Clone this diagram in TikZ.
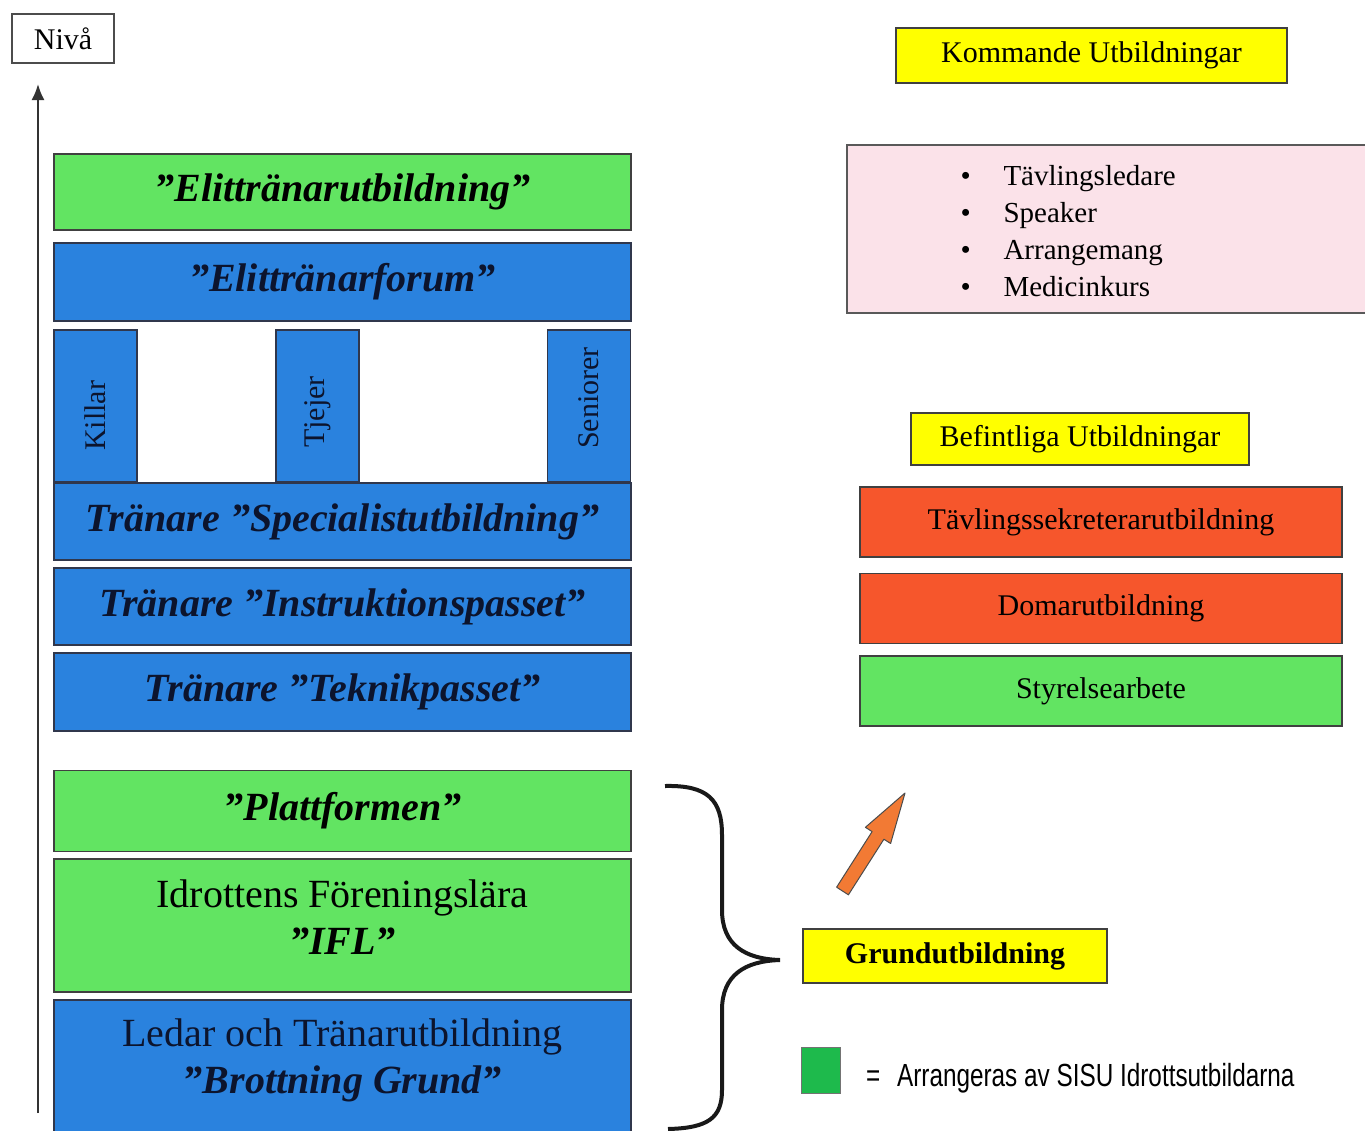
\documentclass[tikz,border=0pt]{standalone}
\usepackage{fontspec}
\usepackage{graphicx}
\setmainfont{Liberation Serif}
\newfontfamily\legendfont{Liberation Sans}
\usetikzlibrary{shapes,arrows.meta,positioning}
\definecolor{levelgreen}{RGB}{98,228,98}
\definecolor{levelblue}{RGB}{42,130,222}
\definecolor{courseorange}{RGB}{246,86,44}
\definecolor{titleyellow}{RGB}{255,255,0}
\definecolor{listpink}{RGB}{251,226,233}
\definecolor{sisugreen}{RGB}{30,186,76}
\definecolor{arroworange}{RGB}{242,122,52}
\definecolor{textnavy}{RGB}{12,20,45}

\tikzset{
  levelbox/.style={rectangle, draw=black!75, line width=1.5pt, inner sep=0pt, minimum width=577pt, align=center,
    font=\fontsize{40}{47}\selectfont\bfseries\itshape},
  plainlevel/.style={font=\fontsize{40}{47}\selectfont},
  greenlevel/.style={levelbox, fill=levelgreen},
  bluelevel/.style={levelbox, fill=levelblue, draw=textnavy!85, text=textnavy},
  groupbox/.style={rectangle, draw=textnavy!85, line width=1.5pt, fill=levelblue, inner sep=0pt, rotate=90,
    minimum width=152pt, minimum height=83pt, text=textnavy, font=\fontsize{30}{36}\selectfont},
  titlebox/.style={rectangle, draw=black!75, line width=1.5pt, fill=titleyellow, inner sep=0pt,
    font=\fontsize{30}{36}\selectfont},
  coursebox/.style={rectangle, draw=black!75, line width=1.5pt, inner sep=0pt, minimum width=482pt,
    minimum height=70pt, font=\fontsize{30}{36}\selectfont}
}

\begin{document}
\begin{tikzpicture}[x=1pt, y=-1pt]
  \fill[white] (0,0) rectangle (1365,1130);
  \useasboundingbox (0,0) rectangle (1365,1130);

  % Level axis
  \node[draw=black!70, line width=1.5pt, inner sep=0pt, minimum width=102pt, minimum height=49pt,
    font=\fontsize{30}{36}\selectfont] (niva) at (63,38.5) {Nivå};
  \coordinate (axisfoot) at (38,1113);
  \coordinate (axistop) at (38,84);
  \draw[line width=2pt, black!80, -{Latex[length=16pt,width=13pt]}] (axisfoot) -- (axistop);

  % Education levels
  \node[greenlevel, minimum height=76pt] (elite) at (342.5,192) {”Elittränarutbildning”};
  \node[bluelevel, minimum height=78pt] (forum) at (342.5,282) {”Elittränarforum”};
  \node[groupbox] (killar) at (95.5,406) {Killar\kern20pt};
  \node[groupbox] (tjejer) at (317.5,406) {Tjejer\kern12pt};
  \node[groupbox] (seniorer) at (589,406) {\kern16pt Seniorer};
  \node[bluelevel, minimum height=77pt] (special) at (342.5,521.5) {Tränare ”Specialistutbildning”};
  \node[bluelevel, minimum height=77pt] (instruktion) at (342.5,606.5) {Tränare ”Instruktionspasset”};
  \node[bluelevel, minimum height=78pt] (teknik) at (342.5,692) {Tränare ”Teknikpasset”};

  % Basic education
  \node[greenlevel, minimum height=81pt] (plattform) at (342.5,811) {”Plattformen”};
  \node[greenlevel, minimum height=133pt] (ifl) at (342.5,925.5) {};
  \node[plainlevel, align=center] (ifltext) at (342.5,917)
    {Idrottens Föreningslära\\\textbf{\textit{”IFL”}}};
  \node[bluelevel, minimum height=141pt, anchor=north] (brottning) at (342.5,999) {};
  \node[plainlevel, align=center, text=textnavy] (brottningtext) at (342.5,1060)
    {Ledar och Tränarutbildning\\\textbf{\textit{”Brottning Grund”}}};

  % Brace
  \draw[line width=4pt, black!90] (665,786) .. controls (708,785) and (722,800) .. (722,835)
    -- (722,910) .. controls (722,945) and (745,959) .. (780,960)
    .. controls (745,961) and (722,975) .. (722,1010)
    -- (722,1090) .. controls (722,1118) and (708,1128) .. (668,1129);
  \node[titlebox, minimum width=304pt, minimum height=54pt, font=\fontsize{30}{36}\selectfont\bfseries]
    (grundutb) at (955,956) {Grundutbildning};

  % Upcoming courses
  \node[titlebox, minimum width=391pt, minimum height=55pt] (kommande) at (1091.5,55.5) {Kommande Utbildningar};
  \node[rectangle, draw=black!65, line width=1.5pt, fill=listpink, inner sep=0pt,
    minimum width=523pt, minimum height=168pt] (kommlista) at (1108.5,229) {};
  \node[anchor=west, align=left, font=\fontsize{29}{37}\selectfont] (kurser) at (957,231)
    {\makebox[43pt][l]{\textbullet}Tävlingsledare\\
     \makebox[43pt][l]{\textbullet}Speaker\\
     \makebox[43pt][l]{\textbullet}Arrangemang\\
     \makebox[43pt][l]{\textbullet}Medicinkurs};

  % Existing courses
  \node[titlebox, minimum width=338pt, minimum height=52pt] (befintliga) at (1080,439) {Befintliga Utbildningar};
  \node[coursebox, fill=courseorange] (sekreterare) at (1101,522) {Tävlingssekreterarutbildning};
  \node[coursebox, fill=courseorange] (domare) at (1101,608.5) {Domarutbildning};
  \node[coursebox, fill=levelgreen] (styrelse) at (1101,691) {Styrelsearbete};

  % Orange arrow
  \draw[line width=1pt, black!70, fill=arroworange, line join=round]
    (836.6,887.2) -- (848.4,894.8) -- (883.9,839.2) -- (890.6,843.5) -- (905,793)
    -- (865.4,827.3) -- (872.1,831.6) -- cycle;

  % Legend
  \node[rectangle, draw=black!55, line width=1pt, fill=sisugreen, inner sep=0pt,
    minimum width=39pt, minimum height=46pt] (sisu) at (820.5,1070) {};
  \node[anchor=west, inner sep=0pt, font=\legendfont\fontsize{32}{38}\selectfont] (sisutext) at (866,1078)
    {\scalebox{0.76}[1]{=\hspace{22pt}Arrangeras av SISU Idrottsutbildarna}};
\end{tikzpicture}
\end{document}
